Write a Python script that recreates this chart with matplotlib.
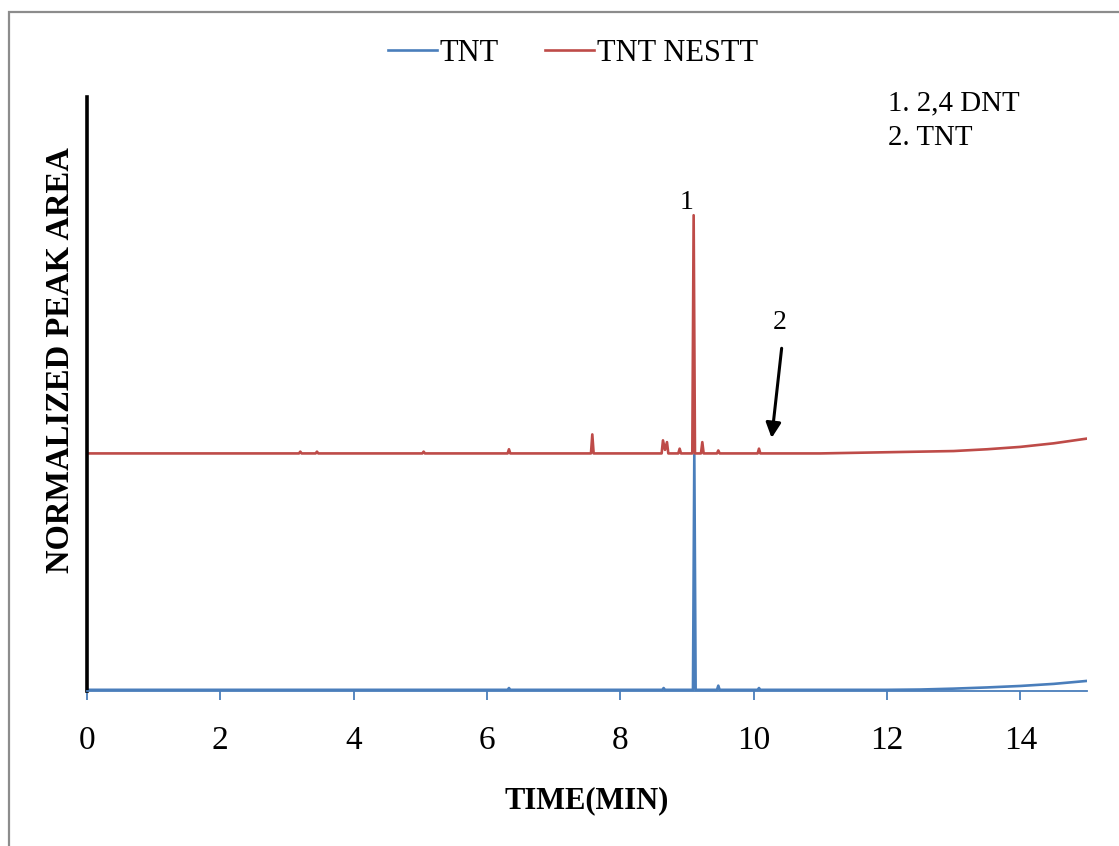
import matplotlib
matplotlib.use("Agg")
import matplotlib.pyplot as plt
from matplotlib.patches import Rectangle

plt.rcParams["font.family"] = ["Liberation Serif", "DejaVu Serif"]

# -------------------------
# DATA
# -------------------------
# TNT standard trace (time in min, normalized signal)
tnt_time = [0.0, 6.31, 6.33, 6.35, 8.63, 8.65, 8.67, 9.09, 9.11, 9.13,
            9.45, 9.47, 9.49, 10.06, 10.08, 10.10, 11.0, 12.0, 12.5, 13.0,
            13.5, 14.0, 14.5, 15.0]
tnt_signal = [0.2, 0.2, 0.5, 0.2, 0.2, 0.5, 0.2, 0.2, 39.8, 0.2,
              0.2, 0.9, 0.2, 0.2, 0.5, 0.2, 0.2, 0.2, 0.25, 0.4,
              0.6, 0.85, 1.2, 1.7]

# TNT NESTT trace (offset above the standard)
nestt_time = [0.0, 3.18, 3.20, 3.22, 3.43, 3.45, 3.47, 5.03, 5.05, 5.07,
              6.31, 6.33, 6.35, 7.56, 7.58, 7.60, 8.62, 8.64, 8.67, 8.70,
              8.72, 8.87, 8.89, 8.91, 9.08, 9.10, 9.12, 9.21, 9.23, 9.25,
              9.45, 9.47, 9.49, 10.06, 10.08, 10.10, 11.0, 11.5, 12.0, 12.5,
              13.0, 13.5, 14.0, 14.5, 15.0]
nestt_signal = [40.0, 40.0, 40.3, 40.0, 40.0, 40.3, 40.0, 40.0, 40.3, 40.0,
                40.0, 40.7, 40.0, 40.0, 43.2, 40.0, 40.0, 42.2, 40.6, 41.9,
                40.0, 40.0, 40.8, 40.0, 40.0, 80.1, 40.0, 40.0, 41.9, 40.0,
                40.0, 40.5, 40.0, 40.0, 40.8, 40.0, 40.0, 40.1, 40.2, 40.3,
                40.4, 40.7, 41.1, 41.7, 42.5]

x_ticks = [0, 2, 4, 6, 8, 10, 12, 14]
peak_labels = ["1. 2,4 DNT", "2. TNT"]

blue = "#4A7EBB"
red = "#BE4B48"

# -------------------------
# PLOT
# -------------------------
fig = plt.figure(figsize=(11.19, 8.46), dpi=100)
ax = fig.add_axes([0.0777, 0.1832, 0.8937, 0.7021])

ax.plot(tnt_time, tnt_signal, color=blue, lw=1.9, label="TNT",
        solid_joinstyle="round")
ax.plot(nestt_time, nestt_signal, color=red, lw=1.9, label="TNT NESTT",
        solid_joinstyle="round")

ax.set_xlim(0, 15)
ax.set_ylim(0, 100)
ax.set_xticks(x_ticks)
ax.set_yticks([])
ax.tick_params(axis="x", direction="out", length=6.5, width=1.3,
               color=blue, labelsize=24, pad=18)

for side in ["top", "right"]:
    ax.spines[side].set_visible(False)
ax.spines["left"].set_color("black")
ax.spines["left"].set_linewidth(2.6)
ax.spines["bottom"].set_color(blue)
ax.spines["bottom"].set_linewidth(1.3)

ax.set_xlabel("TIME(MIN)", fontsize=22, fontweight="bold", labelpad=22)
ax.set_ylabel("NORMALIZED PEAK AREA", fontsize=23.5, fontweight="bold")
ax.yaxis.set_label_coords(-0.011, 0.558)

# peak markers
ax.text(9.0, 82.3, "1", fontsize=20, ha="center", va="center")
ax.text(10.39, 62.0, "2", fontsize=20, ha="center", va="center")
ax.annotate("", xy=(10.27, 42.6), xytext=(10.42, 57.7),
            arrowprops=dict(arrowstyle="-|>,head_length=0.9,head_width=0.45",
                            color="black", lw=2.2, shrinkA=0, shrinkB=0))

# peak key
fig.text(0.794, 0.878, peak_labels[0], fontsize=20.8, ha="left", va="center")
fig.text(0.794, 0.837, peak_labels[1], fontsize=20.8, ha="left", va="center")

fig.legend(loc="center", bbox_to_anchor=(0.512, 0.937), ncol=2,
           frameon=False, fontsize=22, handlelength=1.6, handletextpad=0.1,
           columnspacing=1.5)

# outer frame
fig.patches.append(Rectangle((9 / 1119, -0.1), 1.2, 1 - 12 / 846 + 0.1,
                             transform=fig.transFigure, fill=False,
                             edgecolor="#8C8C8C", lw=1.6))

plt.savefig("out.png", dpi=100)
